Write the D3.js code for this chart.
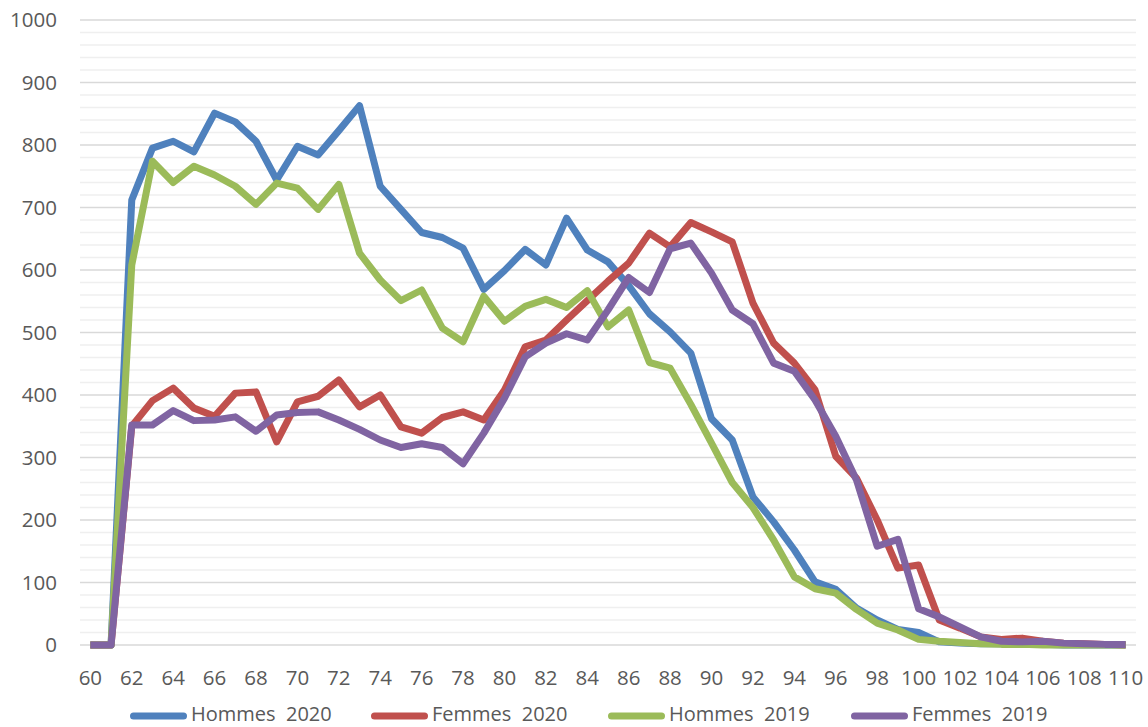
<!DOCTYPE html>
<meta charset="utf-8">
<script type="text/javascript" src="https://cdnjs.cloudflare.com/ajax/libs/d3/7.8.5/d3.min.js"></script>
<style>

body {
  margin: 0;
  background: #fff;
}

text {
  fill: #595959;
  font-family: "Open Sans", sans-serif;
}

path.line {
  fill: none;
  stroke-width: 7px;
  stroke-linejoin: round;
}

</style>
<html><head>
<title></title></head><body>

<script>

// ages 60..110
var ages = d3.range(60, 111);
var tickAges = d3.range(60, 111, 2);
var yTicks = d3.range(0, 1001, 100);

var hommes2020 = [0, 0, 712, 795, 806, 789, 851, 837, 806, 744, 798, 784, 823, 863, 734, 697, 660, 652, 635, 569,
  599, 633, 608, 683, 632, 613, 575, 530, 501, 467, 362, 328, 237, 197, 152, 101, 89, 59, 40, 25,
  20, 5, 3, 2, 2, 1, 1, 0, 0, 0, 0];
var femmes2020 = [0, 0, 350, 391, 411, 379, 366, 403, 405, 325, 389, 398, 424, 381, 400, 349, 339, 364, 373, 360,
  408, 477, 488, 520, 551, 582, 611, 659, 637, 676, 661, 645, 547, 483, 451, 408, 302, 267, 200, 123,
  128, 40, 27, 13, 9, 11, 6, 3, 2, 1, 0];
var hommes2019 = [0, 0, 608, 774, 740, 766, 752, 734, 705, 739, 731, 697, 737, 627, 584, 551, 568, 507, 485, 558,
  518, 542, 553, 540, 567, 509, 536, 452, 443, 385, 323, 260, 220, 168, 109, 90, 83, 57, 35, 24,
  9, 6, 4, 2, 1, 1, 0, 0, 0, 0, 0];
var femmes2019 = [0, 0, 352, 352, 375, 359, 360, 365, 342, 368, 372, 373, 360, 345, 328, 316, 322, 316, 290, 339,
  395, 461, 483, 498, 488, 536, 588, 564, 634, 643, 595, 536, 514, 451, 438, 392, 334, 264, 158, 169,
  58, 45, 29, 13, 6, 5, 6, 3, 2, 1, 1];

var seriesNames = ["Hommes  2020", "Femmes  2020", "Hommes  2019", "Femmes  2019"];
var seriesColors = ["#4F81BD", "#C0504D", "#9BBB59", "#8064A2"];
var seriesValues = [hommes2020, femmes2020, hommes2019, femmes2019];

var width = 1148,
    height = 727;

var svg = d3.select("body").append("svg")
    .attr("width", width)
    .attr("height", height);

var x = d3.scalePoint()
    .domain(ages)
    .range([80, 1136])
    .padding(0.5);

var y = d3.scaleLinear()
    .domain([0, 1000])
    .range([645, 20]);

// minor gridlines every 20
svg.append("g")
    .selectAll("line")
    .data(d3.range(20, 1000, 20).filter(function(v) { return v % 100 != 0; }))
    .enter().append("line")
    .attr("x1", 80)
    .attr("x2", 1136)
    .attr("y1", function(d) { return y(d); })
    .attr("y2", function(d) { return y(d); })
    .style("stroke", "#EFEFEF")
    .style("stroke-width", 1.4);

// major gridlines
svg.append("g")
    .selectAll("line")
    .data(yTicks)
    .enter().append("line")
    .attr("x1", 80)
    .attr("x2", 1136)
    .attr("y1", function(d) { return y(d); })
    .attr("y2", function(d) { return y(d); })
    .style("stroke", "#D9D9D9")
    .style("stroke-width", 1.5);

// y labels
svg.append("g")
    .selectAll("text")
    .data(yTicks)
    .enter().append("text")
    .attr("x", 57)
    .attr("y", function(d) { return y(d); })
    .attr("dy", "0.36em")
    .attr("text-anchor", "end")
    .style("font-size", "20.5px")
    .text(function(d) { return d; });

// x labels
svg.append("g")
    .selectAll("text")
    .data(tickAges)
    .enter().append("text")
    .attr("x", function(d) { return x(d); })
    .attr("y", 678)
    .attr("dy", "0.36em")
    .attr("text-anchor", "middle")
    .style("font-size", "20.5px")
    .text(function(d) { return d; });

var line = d3.line()
    .x(function(d, i) { return x(ages[i]); })
    .y(function(d) { return y(d); });

svg.append("g")
    .selectAll("path")
    .data(seriesValues)
    .enter().append("path")
    .attr("class", "line")
    .attr("d", line)
    .style("stroke", function(d, i) { return seriesColors[i]; });

// legend
var legendX = [130, 371, 608, 851];

var legend = svg.append("g")
    .selectAll("g")
    .data(seriesNames)
    .enter().append("g")
    .attr("transform", function(d, i) { return "translate(" + legendX[i] + ",714)"; });

legend.append("line")
    .attr("x1", 3.5)
    .attr("x2", 53.5)
    .attr("y1", 2)
    .attr("y2", 2)
    .style("stroke", function(d, i) { return seriesColors[i]; })
    .style("stroke-width", 7)
    .style("stroke-linecap", "round");

legend.append("text")
    .attr("x", 61)
    .attr("dy", "0.36em")
    .style("font-size", "20px")
    .style("white-space", "pre")
    .text(function(d) { return d; });

</script>
</body>
</html>
